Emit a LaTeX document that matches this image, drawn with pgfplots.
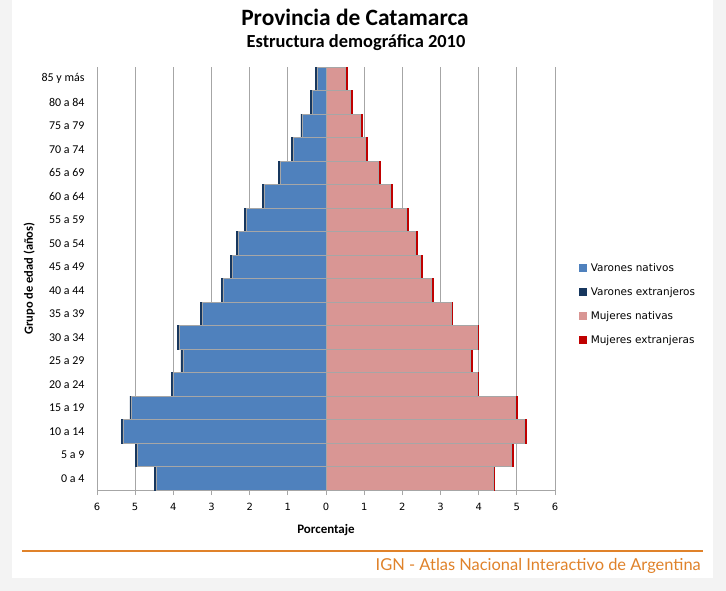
\documentclass[border=0pt]{standalone}
\usepackage{fontspec}
\setmainfont{Carlito}
\newfontfamily\dejavu{DejaVu Sans}
\newfontfamily\lato{Lato}
\usepackage{pgfplots}
\usepackage{pgfplotstable}
\pgfplotsset{compat=1.18}
\definecolor{bggray}{HTML}{F3F3F3}
\definecolor{vnat}{HTML}{4F81BD}
\definecolor{vext}{HTML}{17375E}
\definecolor{mnat}{HTML}{D99694}
\definecolor{mext}{HTML}{C00000}
\definecolor{ignorange}{HTML}{E0822A}
\definecolor{gridg}{HTML}{A6A6A6}

\pgfplotstableread{
g vn ve mn me
0  4.45 0.05 4.37 0.05
1  4.95 0.05 4.86 0.05
2  5.32 0.05 5.19 0.05
3  5.09 0.05 4.97 0.05
4  4.01 0.05 3.95 0.05
5  3.75 0.05 3.77 0.05
6  3.85 0.05 3.95 0.05
7  3.24 0.05 3.27 0.05
8  2.70 0.05 2.75 0.05
9  2.45 0.05 2.47 0.05
10 2.29 0.05 2.33 0.05
11 2.08 0.05 2.11 0.05
12 1.61 0.05 1.69 0.05
13 1.19 0.05 1.36 0.05
14 0.85 0.05 1.04 0.05
15 0.61 0.05 0.90 0.05
16 0.36 0.05 0.64 0.05
17 0.23 0.05 0.50 0.05
}\pyramid

\begin{document}
\begin{tikzpicture}
\fill[bggray] (0bp,0bp) rectangle (726bp,-591bp);
\fill[white] (12bp,0bp) rectangle (713bp,-578bp);

\node[font=\bfseries\fontsize{23.5}{27}\selectfont] at (355bp,-17bp) {Provincia de Catamarca};
\node[font=\bfseries\fontsize{18.5}{22}\selectfont] at (356bp,-43bp) {Estructura demográfica 2010};

\begin{axis}[
  at={(97bp,-490bp)}, anchor=south west,
  scale only axis, width=458bp, height=423bp,
  xmin=-6, xmax=6, ymin=-0.5, ymax=17.5,
  xbar, bar width=1, bar shift=0pt,
  axis x line*=bottom, axis y line*=left,
  axis line style={gridg, line width=0.8bp},
  xtick={-6,...,6},
  xticklabels={6,5,4,3,2,1,0,1,2,3,4,5,6},
  xtick align=outside, xtick pos=bottom,
  major tick length=5bp,
  xtick style={gridg, line width=0.8bp},
  ytick={0,...,17},
  yticklabels={0 a 4,5 a 9,10 a 14,15 a 19,20 a 24,25 a 29,30 a 34,35 a 39,40 a 44,45 a 49,50 a 54,55 a 59,60 a 64,65 a 69,70 a 74,75 a 79,80 a 84,85 y más},
  ytick style={draw=none},
  /pgf/number format/assume math mode=true,
  xticklabel style={font=\dejavu\fontsize{10}{11}\selectfont, yshift=-5bp},
  yticklabel style={font=\fontsize{12}{14}\selectfont, xshift=-4bp},
  xmajorgrids, grid style={gridg, line width=0.8bp},
  xlabel={Porcentaje},
  xlabel style={font=\bfseries\fontsize{13}{15}\selectfont, yshift=-7bp},
  ylabel={Grupo de edad (años)},
  ylabel style={font=\bfseries\fontsize{12.5}{15}\selectfont, yshift=0bp},
  legend style={at={(1.045,0.545)}, anchor=north west, draw=none, fill=none,
    font=\dejavu\fontsize{10.5}{12}\selectfont, row sep=10.5bp,
    /tikz/every odd column/.append style={column sep=2bp}},
  legend cell align=left,
  legend image code/.code={\path[#1, draw=none] (0bp,-4bp) rectangle (8bp,4bp);},
  clip=false,
]
\addplot[fill=vext, draw=vext, line width=0.5bp, forget plot] table[y=g, x expr=-\thisrow{vn}-\thisrow{ve}] {\pyramid};
\addplot[fill=vnat, draw=gridg, line width=0.5bp, forget plot] table[y=g, x expr=-\thisrow{vn}] {\pyramid};
\addplot[fill=mext, draw=mext, line width=0.5bp, forget plot] table[y=g, x expr=\thisrow{mn}+\thisrow{me}] {\pyramid};
\addplot[fill=mnat, draw=gridg, line width=0.5bp, forget plot] table[y=g, x=mn] {\pyramid};
\addlegendimage{fill=vnat}
\addlegendentry{Varones nativos}
\addlegendimage{fill=vext}
\addlegendentry{Varones extranjeros}
\addlegendimage{fill=mnat}
\addlegendentry{Mujeres nativas}
\addlegendimage{fill=mext}
\addlegendentry{Mujeres extranjeras}
\end{axis}

\draw[ignorange, line width=1.6bp] (22bp,-551bp) -- (703bp,-551bp);
\node[anchor=east, text=ignorange, font=\lato\fontsize{16.5}{19}\selectfont, inner sep=0pt] at (701bp,-566bp) {IGN - Atlas Nacional Interactivo de Argentina};
\end{tikzpicture}
\end{document}
